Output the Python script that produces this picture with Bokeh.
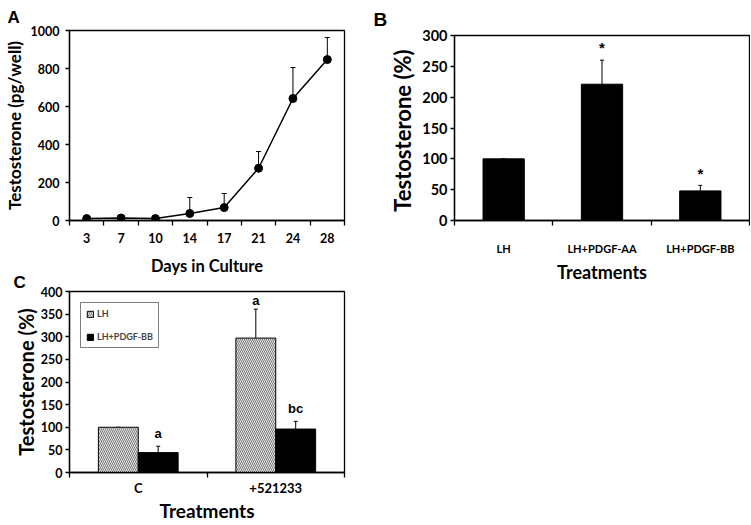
from bokeh.plotting import figure
from bokeh.layouts import column, row
from bokeh.models import (ColumnDataSource, Whisker, TeeHead, FixedTicker, Title,
                          Range1d, Legend, LegendItem, SingleIntervalTicker)
from bokeh.embed import file_html
from bokeh.resources import INLINE
from bokeh.core.properties import value

# ---------------- data ----------------
days = ["3", "7", "10", "14", "17", "21", "24", "28"]
testo_a = [10, 13, 10, 37, 68, 275, 642, 847]
err_a = [0, 0, 0, 84, 74, 88, 163, 116]

treat_b = ["LH", "LH+PDGF-AA", "LH+PDGF-BB"]
testo_b = [100, 221, 48]
err_b = [0, 39, 9]
sig_b = ["", "*", "*"]

groups_c = ["C", "+521233"]
series_c = ["LH", "LH+PDGF-BB"]
lh_c = [100, 297]
lh_err_c = [0, 64]
bb_c = [44, 96]
bb_err_c = [14, 17]
lh_sig_c = ["", "a"]
bb_sig_c = ["a", "bc"]

FONT = "Lato"
LETTER_FONT = "Liberation Sans"


def base_style(p, labels, tick_size, xlab_standoff, xtitle_standoff):
    n = len(labels)
    p.xgrid.visible = False
    p.ygrid.visible = False
    p.outline_line_color = "black"
    p.outline_line_width = 1.3
    p.background_fill_color = "white"
    centers = [i + 0.5 for i in range(n)]
    p.xaxis.ticker = FixedTicker(ticks=centers, minor_ticks=list(range(n + 1)))
    p.xaxis.major_label_overrides = {c: lab for c, lab in zip(centers, labels)}
    for ax in (p.xaxis[0], p.yaxis[0]):
        ax.axis_line_color = "black"
        ax.axis_line_width = 1.3
        ax.major_label_text_font = FONT
        ax.major_label_text_font_style = "bold"
        ax.major_label_text_color = "black"
        ax.axis_label_text_font = FONT
        ax.axis_label_text_font_style = "bold"
        ax.axis_label_text_color = "black"
    xa = p.xaxis[0]
    xa.major_tick_line_color = None
    xa.minor_tick_line_color = "black"
    xa.minor_tick_line_width = 1.3
    xa.minor_tick_out = 5
    xa.minor_tick_in = 0
    xa.major_label_text_font_size = tick_size
    xa.major_label_standoff = xlab_standoff
    xa.axis_label_standoff = xtitle_standoff
    ya = p.yaxis[0]
    ya.major_tick_line_color = "black"
    ya.major_tick_line_width = 1.3
    ya.major_tick_out = 4
    ya.major_tick_in = 0
    ya.minor_tick_line_color = None


def letter(p, text, size, standoff, offset, line_height=1.2):
    p.add_layout(Title(text=text, align="left", text_font=LETTER_FONT,
                       text_font_style="bold", text_font_size=size, text_color="black",
                       text_line_height=line_height,
                       standoff=standoff, offset=offset), "above")


# ---------------- panel A ----------------
pA = figure(width=370, height=280, output_backend="svg", toolbar_location=None,
            x_range=Range1d(0, len(days)), y_range=Range1d(0, 1000),
            min_border_left=68, min_border_right=26, min_border_top=30, min_border_bottom=60,
            x_axis_label="Days in Culture", y_axis_label="Testosterone (pg/well)")
pA.border_fill_color = "white"
base_style(pA, days, "12.5px", 6, 10)
letter(pA, "A", "17px", 8, -62, 0.8)
pA.yaxis.ticker = SingleIntervalTicker(interval=200)
pA.yaxis.major_label_text_font_size = "12.5px"
pA.yaxis.major_label_standoff = 6
pA.yaxis.axis_label_text_font_size = "17px"
pA.yaxis.axis_label_standoff = 3
pA.xaxis.axis_label_text_font_size = "16.5px"

xa_pos = [i + 0.5 for i in range(len(days))]
srcA = ColumnDataSource(dict(x=xa_pos, y=testo_a,
                             up=[v + e for v, e in zip(testo_a, err_a)]))
pA.add_layout(Whisker(base="x", lower="y", upper="up", source=srcA, dimension="height",
                      line_color="black", line_width=1,
                      upper_head=TeeHead(size=5, line_color="black", line_width=1),
                      lower_head=None))
pA.line("x", "y", source=srcA, line_color="black", line_width=1.5)
pA.scatter("x", "y", source=srcA, size=8, fill_color="black", line_color="black")

# ---------------- panel B ----------------
pB = figure(width=380, height=285, output_backend="svg", toolbar_location=None,
            x_range=Range1d(0, len(treat_b)), y_range=Range1d(0, 300),
            min_border_left=84, min_border_right=1, min_border_top=33, min_border_bottom=64,
            x_axis_label="Treatments", y_axis_label="Testosterone  (%)")
pB.border_fill_color = "white"
base_style(pB, treat_b, "11px", 15, 3)
letter(pB, "B", "19px", 12, -81, 1.0)
pB.yaxis.ticker = SingleIntervalTicker(interval=50)
pB.yaxis.major_label_text_font_size = "14.5px"
pB.yaxis.major_label_standoff = 3
pB.yaxis.axis_label_text_font_size = "22px"
pB.yaxis.axis_label_standoff = 3
pB.xaxis.axis_label_text_font_size = "18px"

xb_pos = [i + 0.5 for i in range(len(treat_b))]
srcB = ColumnDataSource(dict(x=xb_pos, y=testo_b,
                             up=[v + e for v, e in zip(testo_b, err_b)],
                             sig=sig_b, sy=[v + e + 20 for v, e in zip(testo_b, err_b)]))
pB.add_layout(Whisker(base="x", lower="y", upper="up", source=srcB, dimension="height",
                      line_color="black", line_width=1,
                      upper_head=TeeHead(size=4, line_color="black", line_width=1),
                      lower_head=None))
pB.vbar(x="x", top="y", width=0.42, source=srcB, fill_color="black", line_color="black")
pB.text(x="x", y="sy", text="sig", source=srcB, text_font=value(LETTER_FONT),
        text_font_style="bold", text_font_size="15px", text_align="center",
        text_baseline="middle", text_color="black")

# ---------------- panel C ----------------
pC = figure(width=370, height=258, output_backend="svg", toolbar_location=None,
            x_range=Range1d(0, len(groups_c)), y_range=Range1d(0, 400),
            min_border_left=61, min_border_right=25, min_border_top=25, min_border_bottom=45,
            x_axis_label="Treatments", y_axis_label="Testosterone (%)",
            margin=(-14, 0, 0, 0))
pC.border_fill_alpha = 0
base_style(pC, groups_c, "13px", 1, 0)
letter(pC, "C", "17px", 0, -56)
pC.yaxis.ticker = SingleIntervalTicker(interval=50)
pC.yaxis.major_label_text_font_size = "12.5px"
pC.yaxis.major_label_standoff = 3
pC.yaxis.axis_label_text_font_size = "20px"
pC.yaxis.axis_label_standoff = 0
pC.xaxis.axis_label_text_font_size = "19px"

xc_pos = [i + 0.5 for i in range(len(groups_c))]
off = 0.145
bw = 0.29
srcC1 = ColumnDataSource(dict(x=[v - off for v in xc_pos], y=lh_c,
                              up=[v + e for v, e in zip(lh_c, lh_err_c)],
                              sig=lh_sig_c, sy=[v + e + 20 for v, e in zip(lh_c, lh_err_c)]))
srcC2 = ColumnDataSource(dict(x=[v + off for v in xc_pos], y=bb_c,
                              up=[v + e for v, e in zip(bb_c, bb_err_c)],
                              sig=bb_sig_c, sy=[v + e + 29 for v, e in zip(bb_c, bb_err_c)]))
for s in (srcC1, srcC2):
    pC.add_layout(Whisker(base="x", lower="y", upper="up", source=s, dimension="height",
                          line_color="black", line_width=1,
                          upper_head=TeeHead(size=4, line_color="black", line_width=1),
                          lower_head=None))
r1 = pC.vbar(x="x", top="y", width=bw, source=srcC1, fill_color="#e4e4e4",
             line_color="black", line_width=1,
             hatch_pattern="\\", hatch_color="#7a7a7a", hatch_scale=4, hatch_weight=1)
r2 = pC.vbar(x="x", top="y", width=bw, source=srcC2, fill_color="black", line_color="black")
for s in (srcC1, srcC2):
    pC.text(x="x", y="sy", text="sig", source=s, text_font=value(LETTER_FONT),
            text_font_style="bold", text_font_size="13px", text_align="center",
            text_baseline="middle", text_color="black")
leg = Legend(items=[LegendItem(label=series_c[0], renderers=[r1]),
                    LegendItem(label=series_c[1], renderers=[r2])],
             location="top_left", orientation="vertical",
             glyph_width=8, glyph_height=8, label_height=8, label_width=10,
             label_text_font=FONT, label_text_font_style="bold", label_text_font_size="9px",
             label_standoff=3, spacing=12, padding=5, margin=11,
             border_line_color="black", border_line_width=1.3,
             background_fill_color="white", background_fill_alpha=1)
pC.add_layout(leg, "center")

layout = row(column(pA, pC), pB)
open("out.html", "w").write(file_html(layout, INLINE))
